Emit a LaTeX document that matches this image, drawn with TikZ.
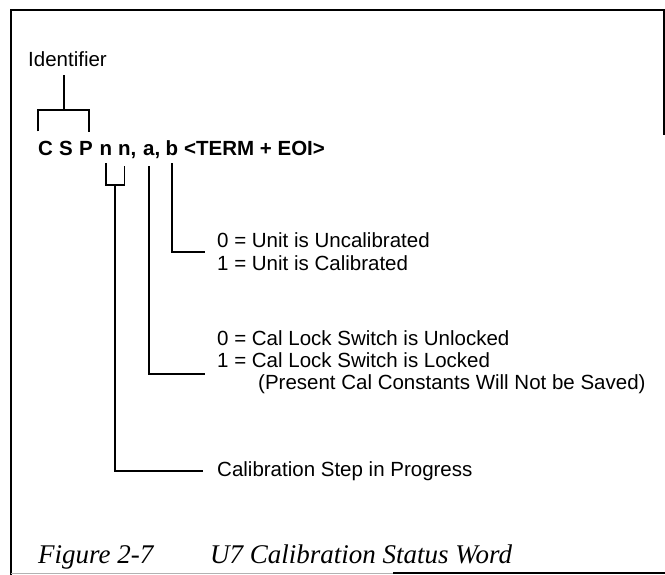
\documentclass[tikz,border=0pt]{standalone}
\usepackage{fontspec}
\setmainfont{Liberation Sans}
\newfontfamily\capfont{Liberation Serif}
\begin{document}
\begin{tikzpicture}[x=1pt,y=-1pt,
  lbl/.style={inner sep=0pt, anchor=base west, font=\fontsize{20.5}{23}\selectfont},
  tok/.style={inner sep=0pt, anchor=base west, font=\fontsize{20.5}{23}\selectfont\bfseries},
  lead/.style={line width=1.2pt},
  frameline/.style={line width=1.8pt},
  capt/.style={inner sep=0pt, anchor=base west, font=\fontsize{27}{31}\selectfont\capfont\itshape}]
\useasboundingbox (0,0) rectangle (665,575);
% frame
\draw[frameline] (11,575) -- (11,10) -- (665,10);
\draw[frameline] (664,10) -- (664,135);
\draw[frameline] (393,573) -- (665,573);
\draw[line width=1pt, gray!60] (11,573) -- (393,573);
% identifier
\node[lbl] (ident) at (28,67) {Identifier};
% status word tokens
\node[tok] (C) at (38,156) {C};
\node[tok] (S) at (59,156) {S};
\node[tok] (P) at (79,156) {P};
\node[tok] (n1) at (99.5,156) {n};
\node[tok] (n2) at (118,156) {n\rlap{,}};
\node[tok] (a) at (143,156) {a\rlap{,}};
\node[tok] (b) at (165.5,156) {b};
\node[tok] (term) at (184,156) {<TERM + EOI>};
% descriptions
\node[lbl] (u0) at (217,248) {0 = Unit is Uncalibrated};
\node[lbl] (u1) at (217,271) {1 = Unit is Calibrated};
\node[lbl] (l0) at (217,345) {0 = Cal Lock Switch is Unlocked};
\node[lbl] (l1) at (217,367) {1 = Cal Lock Switch is Locked};
\node[lbl] (l2) at (258,389) {(Present Cal Constants Will Not be Saved)};
\node[lbl, anchor=west] (step) at (217,471) {Calibration Step in Progress};
% caption
\node[capt] (fig) at (38,563) {Figure 2-7};
\node[capt] (title) at (210,563) {U7 Calibration Status Word};
% connectors
\coordinate (idb) at (64,110);
\draw[lead] ([yshift=-8pt]ident.south -| idb) -- (idb);
\draw[lead] ([yshift=10pt]C.north west) |- (idb) -| ([yshift=10pt,xshift=-4pt]P.north east);
\coordinate (nnb) at (115,185);
\draw[lead] ([yshift=-7pt]n1.south) |- (nnb) -| ([yshift=-7pt]n2.south);
\draw[lead] (nnb) |- ([xshift=-14pt]step.west);
\coordinate (aend) at (205,374);
\draw[lead] ([yshift=-7pt]a.south) |- (aend);
\coordinate (bend) at (205,252);
\draw[lead] ([yshift=-7pt]b.south) |- (bend);
\end{tikzpicture}
\end{document}
